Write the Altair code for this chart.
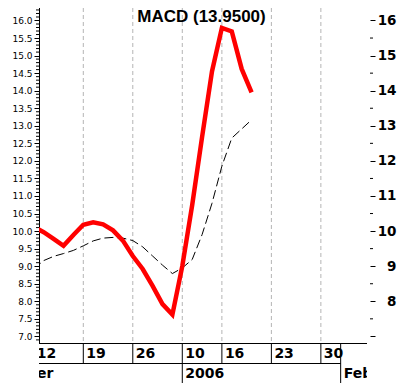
import altair as alt
import pandas as pd

# ---- data (trading-day index) ----
day = list(range(23))
macd = [10.12, 9.97, 9.78, 9.58, 9.89, 10.18, 10.25, 10.19, 10.02, 9.73, 9.29,
        8.92, 8.44, 7.92, 7.62, 9.00, 10.74, 12.68, 14.55, 15.79, 15.69, 14.62, 13.95]
signal = [8.92, 9.16, 9.28, 9.36, 9.45, 9.58, 9.72, 9.80, 9.82, 9.80, 9.73,
          9.55, 9.29, 9.03, 8.79, 8.95, 9.19, 9.90, 10.79, 11.85, 12.65, 12.91, 13.17]

week_pos = [0, 5, 10, 15, 19, 24, 29]
week_lbl = ["12", "19", "26", "10", "16", "23", "30"]
grid_pos = [5, 10, 15, 19, 24, 29]
week_sep = [5, 10, 19, 24, 29]
month_pos = [-6.4, 15, 31]
month_lbl = ["December", "2006", "Feb"]
month_sep = [15, 31]

left_major = [7.0 + 0.5 * i for i in range(19)]
left_minor = [round(6.9 + 0.1 * i, 1) for i in range(95)]
left_minor = [v for v in left_minor if abs(v * 2 - round(v * 2)) > 1e-6]
right_major = list(range(7, 17))
right_minor = [7.5 + i for i in range(9)]

X_MIN, X_MAX = 0.525, 33.66
W, H = 328, 375
X = alt.Scale(domain=[X_MIN, X_MAX], nice=False, zero=False)
Y = alt.Scale(domain=[5.672, 16.356], nice=False, zero=False)

lines = pd.DataFrame({"day": day, "macd": macd, "signal": signal})
one = pd.DataFrame({"a": [0]})

grid = alt.Chart(pd.DataFrame({"p": grid_pos})).mark_rule(
    color="#b4b4b4", strokeDash=[4, 3], strokeWidth=1
).encode(x=alt.X("p:Q", scale=X, axis=None), y=alt.value(0), y2=alt.value(335))

frame_left = alt.Chart(one).mark_rule(color="black").encode(
    x=alt.value(0.5), y=alt.value(0), y2=alt.value(335.5))
frame_bottom = alt.Chart(one).mark_rule(color="black").encode(
    x=alt.value(0), x2=alt.value(W), y=alt.value(335.5))
row1_bottom = alt.Chart(pd.DataFrame({"s": [X_MIN], "e": [31]})).mark_rule(color="black").encode(
    x=alt.X("s:Q", scale=X, axis=None), x2="e:Q", y=alt.value(355.5))

wsep = alt.Chart(pd.DataFrame({"p": week_sep})).mark_rule(color="black").encode(
    x=alt.X("p:Q", scale=X, axis=None), y=alt.value(335), y2=alt.value(355))
msep = alt.Chart(pd.DataFrame({"p": month_sep})).mark_rule(color="black").encode(
    x=alt.X("p:Q", scale=X, axis=None), y=alt.value(335), y2=alt.value(375))

wlab = alt.Chart(pd.DataFrame({"p": week_pos, "t": week_lbl})).mark_text(
    align="left", baseline="alphabetic", dx=3, font="DejaVu Sans", fontWeight="bold",
    fontSize=14, color="black", clip=True
).encode(x=alt.X("p:Q", scale=X, axis=None), y=alt.value(350), text="t:N")
mlab = alt.Chart(pd.DataFrame({"p": month_pos, "t": month_lbl})).mark_text(
    align="left", baseline="alphabetic", dx=3, font="DejaVu Sans", fontWeight="bold",
    fontSize=14, color="black", clip=True
).encode(x=alt.X("p:Q", scale=X, axis=None), y=alt.value(370), text="t:N")

lminor = alt.Chart(pd.DataFrame({"v": left_minor})).mark_rule(color="black").encode(
    y=alt.Y("v:Q", scale=Y, axis=None), x=alt.value(-3), x2=alt.value(0))
rminor = alt.Chart(pd.DataFrame({"v": right_minor})).mark_rule(color="black").encode(
    y=alt.Y("v:Q", scale=Y, axis=None), x=alt.value(W + 3), x2=alt.value(W + 6))

sig = alt.Chart(lines).mark_line(
    color="black", strokeWidth=1, strokeDash=[9, 4], clip=True
).encode(
    x=alt.X("day:Q", scale=X, axis=None),
    y=alt.Y("signal:Q", scale=Y, axis=alt.Axis(
        orient="left", values=left_major, format=".1f", tickSize=5, labelPadding=2,
        labelFont="DejaVu Sans", labelFontSize=9, labelColor="black", tickColor="black",
        domain=False, grid=False, title=None, labelFlush=False, labelOverlap=False)),
)
mac = alt.Chart(lines).mark_line(color="#ff0000", strokeWidth=4.5, clip=True).encode(
    x=alt.X("day:Q", scale=X, axis=None),
    y=alt.Y("macd:Q", scale=Y, axis=alt.Axis(
        orient="right", values=right_major, format="d",
        labelExpr="datum.value == 7 ? '' : datum.label",
        offset=3, tickSize=5, labelAlign="right", labelPadding=21,
        labelFont="DejaVu Sans", labelFontWeight="bold", labelFontSize=13.5,
        labelColor="black", tickColor="black", domain=False, grid=False,
        title=None, labelFlush=False, labelOverlap=False)),
)

title = alt.Chart(one).mark_text(
    text="MACD (%.4f)" % macd[-1], align="center", baseline="alphabetic",
    font="Liberation Sans", fontWeight="bold", fontSize=17, color="black"
).encode(x=alt.value(162.5), y=alt.value(14))

chart = alt.layer(
    grid, frame_left, frame_bottom, row1_bottom, wsep, msep, wlab, mlab,
    lminor, rminor, sig, mac, title
).resolve_axis(y="independent").properties(
    width=W, height=H,
    autosize=alt.AutoSizeParams(type="none"),
    padding={"left": 31, "top": 0, "right": 30, "bottom": 0},
    background="white",
).configure_view(stroke=None)

chart.save("out.html", embed_options={"renderer": "svg", "actions": False})
